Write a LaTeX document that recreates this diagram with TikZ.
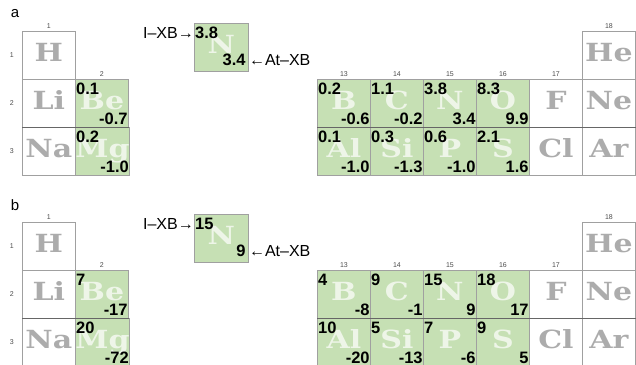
\documentclass[tikz,border=0pt]{standalone}
\usepackage{fontspec}
\usetikzlibrary{positioning}
\newfontfamily\valfont{Liberation Sans}
\newfontfamily\elfont[FakeStretch=1.2]{DejaVu Serif}
\definecolor{xbgreen}{RGB}{198,224,180}
\definecolor{elgray}{RGB}{172,172,172}
\definecolor{rulegray}{RGB}{160,160,160}

\tikzset{
  cell/.style={draw=rulegray, line width=0.8pt, anchor=north west, minimum width=53pt, minimum height=48pt,
    inner sep=0pt, text height=12pt, text depth=0pt, font=\elfont\bfseries\fontsize{25}{25}\selectfont, text=elgray},
  xb/.style={fill=xbgreen, text=white, text opacity=0.7},
  topval/.style={anchor=north west, inner xsep=1pt, inner ysep=4pt, font=\valfont\bfseries\fontsize{16.5}{16.5}\selectfont},
  botval/.style={topval, anchor=south east, inner ysep=3pt},
  grp/.style={font=\valfont\fontsize{7}{7}\selectfont, text=black!70, inner sep=1pt},
  arrlab/.style={font=\valfont\fontsize{16}{16}\selectfont, inner sep=0pt},
  panlab/.style={font=\valfont\fontsize{15}{15}\selectfont},
  sepline/.style={draw=black!60, line width=0.8pt},
}

% green cell with I-XB value top left and At-XB value bottom right
\newcommand{\xbcell}[6]{%
  \node[cell, xb] (#1) at (#2,#3) {#4};
  \node[topval] (#1t) at (#1.north west) {#5};
  \node[botval] (#1b) at (#1.south east) {#6};}

\begin{document}
\begin{tikzpicture}[x=1pt,y=-1pt]
  \useasboundingbox (0,0) rectangle (636,364);

  % panel a
  \node[panlab] (alab) at (15,14) {a};
  \node[cell] (ah) at (22,31) {H};
  \node[cell] (ali) at (22,79) {Li};
  \node[cell] (ana) at (22,127) {Na};
  \xbcell{abe}{75}{79}{Be}{0.1}{-0.7}
  \xbcell{amg}{75}{127}{Mg}{0.2}{-1.0}
  \xbcell{ab}{317}{79}{B}{0.2}{-0.6}
  \xbcell{ac}{370}{79}{C}{1.1}{-0.2}
  \xbcell{an}{423}{79}{N}{3.8}{3.4}
  \xbcell{ao}{476}{79}{O}{8.3}{9.9}
  \xbcell{aal}{317}{127}{Al}{0.1}{-1.0}
  \xbcell{asi}{370}{127}{Si}{0.3}{-1.3}
  \xbcell{ap}{423}{127}{P}{0.6}{-1.0}
  \xbcell{as}{476}{127}{S}{2.1}{1.6}
  \node[cell] (af) at (529,79) {F};
  \node[cell] (acl) at (529,127) {Cl};
  \node[cell] (ahe) at (582,31) {He};
  \node[cell] (ane) at (582,79) {Ne};
  \node[cell] (aar) at (582,127) {Ar};
  \draw[sepline] (ali.south west) -- (abe.south east);
  \draw[sepline] (ab.south west) -- (ane.south east);

  \node[grp, above=1pt of ah] {1};
  \node[grp, above=1pt of abe] {2};
  \node[grp, above=1pt of ab] {13};
  \node[grp, above=1pt of ac] {14};
  \node[grp, above=1pt of an] {15};
  \node[grp, above=1pt of ao] {16};
  \node[grp, above=1pt of af] {17};
  \node[grp, above=1pt of ahe] {18};
  \node[grp, left=7pt of ah] {1};
  \node[grp, left=7pt of ali] {2};
  \node[grp, left=7pt of ana] {3};

  \node[cell, xb, minimum width=54pt] (anx) at (194,23) {N};
  \node[topval] (anxt) at (anx.north west) {3.8};
  \node[botval, inner xsep=3pt, inner ysep=6pt] (anxb) at (anx.south east) {3.4};
  \node[arrlab, anchor=base east] (aixb) at (anxt.base west) {I–XB→};
  \node[arrlab, anchor=base west] (aatxb) at (anxb.base east) {←At–XB};

  % panel b
  \node[panlab] (blab) at (15,205) {b};
  \node[cell] (bh) at (22,222) {H};
  \node[cell] (bli) at (22,270) {Li};
  \node[cell] (bna) at (22,318) {Na};
  \xbcell{bbe}{75}{270}{Be}{7}{-17}
  \xbcell{bmg}{75}{318}{Mg}{20}{-72}
  \xbcell{bb}{317}{270}{B}{4}{-8}
  \xbcell{bc}{370}{270}{C}{9}{-1}
  \xbcell{bn}{423}{270}{N}{15}{9}
  \xbcell{bo}{476}{270}{O}{18}{17}
  \xbcell{bal}{317}{318}{Al}{10}{-20}
  \xbcell{bsi}{370}{318}{Si}{5}{-13}
  \xbcell{bp}{423}{318}{P}{7}{-6}
  \xbcell{bs}{476}{318}{S}{9}{5}
  \node[cell] (bf) at (529,270) {F};
  \node[cell] (bcl) at (529,318) {Cl};
  \node[cell] (bhe) at (582,222) {He};
  \node[cell] (bne) at (582,270) {Ne};
  \node[cell] (bar) at (582,318) {Ar};
  \draw[sepline] (bli.south west) -- (bbe.south east);
  \draw[sepline] (bb.south west) -- (bne.south east);

  \node[grp, above=1pt of bh] {1};
  \node[grp, above=1pt of bbe] {2};
  \node[grp, above=1pt of bb] {13};
  \node[grp, above=1pt of bc] {14};
  \node[grp, above=1pt of bn] {15};
  \node[grp, above=1pt of bo] {16};
  \node[grp, above=1pt of bf] {17};
  \node[grp, above=1pt of bhe] {18};
  \node[grp, left=7pt of bh] {1};
  \node[grp, left=7pt of bli] {2};
  \node[grp, left=7pt of bna] {3};

  \node[cell, xb, minimum width=54pt] (bnx) at (194,214) {N};
  \node[topval] (bnxt) at (bnx.north west) {15};
  \node[botval, inner xsep=3pt, inner ysep=6pt] (bnxb) at (bnx.south east) {9};
  \node[arrlab, anchor=base east] (bixb) at (bnxt.base west) {I–XB→};
  \node[arrlab, anchor=base west] (batxb) at (bnxb.base east) {←At–XB};
\end{tikzpicture}
\end{document}
